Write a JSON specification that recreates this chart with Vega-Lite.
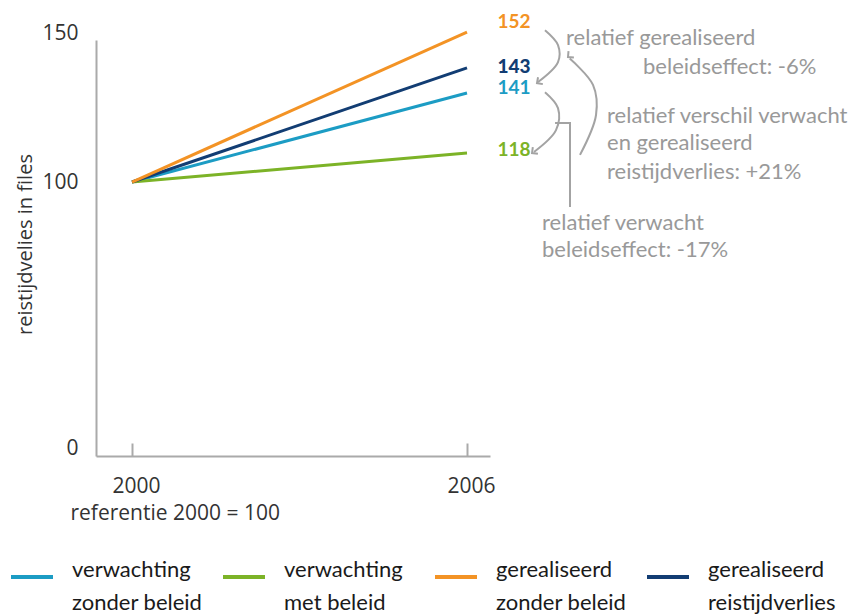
{
  "$schema": "https://vega.github.io/schema/vega-lite/v6.json",
  "width": 394,
  "height": 416,
  "autosize": {"type": "none"},
  "padding": {"left": 96, "top": 40, "right": 363, "bottom": 158},
  "background": "white",
  "config": {"view": {"stroke": null}, "font": "Open Sans"},
  "datasets": {
    "series": [
      {"series": "verwachting zonder beleid", "year": 2000, "value": 100},
      {"series": "verwachting zonder beleid", "year": 2006, "value": 133.5},
      {"series": "verwachting met beleid", "year": 2000, "value": 100},
      {"series": "verwachting met beleid", "year": 2006, "value": 110.9},
      {"series": "gerealiseerd reistijdverlies", "year": 2000, "value": 100},
      {"series": "gerealiseerd reistijdverlies", "year": 2006, "value": 142.9},
      {"series": "gerealiseerd zonder beleid", "year": 2000, "value": 100},
      {"series": "gerealiseerd zonder beleid", "year": 2006, "value": 156.4}
    ],
    "valuelabels": [
      {"series": "gerealiseerd zonder beleid", "text": "152", "year": 2006.842, "value": 160.2},
      {"series": "gerealiseerd reistijdverlies", "text": "143", "year": 2006.842, "value": 143.4},
      {"series": "verwachting zonder beleid", "text": "141", "year": 2006.842, "value": 135.5},
      {"series": "verwachting met beleid", "text": "118", "year": 2006.842, "value": 112.0}
    ],
    "curves": [
      {"id": "a", "i": 1, "year": 2007.397, "value": 157.1},
      {"id": "a", "i": 2, "year": 2007.63, "value": 151.5},
      {"id": "a", "i": 3, "year": 2007.63, "value": 145.1},
      {"id": "a", "i": 4, "year": 2007.272, "value": 137.6},
      {"id": "b", "i": 1, "year": 2007.397, "value": 133.8},
      {"id": "b", "i": 2, "year": 2007.63, "value": 127.8},
      {"id": "b", "i": 3, "year": 2007.594, "value": 119.5},
      {"id": "b", "i": 4, "year": 2007.2, "value": 111.3},
      {"id": "c", "i": 1, "year": 2008.024, "value": 110.2},
      {"id": "c", "i": 2, "year": 2008.311, "value": 125.2},
      {"id": "c", "i": 3, "year": 2008.257, "value": 136.5},
      {"id": "c", "i": 4, "year": 2007.84, "value": 146.4}
    ],
    "bracket": [
      {"i": 1, "year": 2007.577, "value": 122.2},
      {"i": 2, "year": 2007.845, "value": 122.2},
      {"i": 3, "year": 2007.845, "value": 90.6}
    ],
    "arrows": [
      {"arrow": "a", "year": 2007.254, "value": 137.2},
      {"arrow": "b", "year": 2007.165, "value": 110.9},
      {"arrow": "c", "year": 2007.809, "value": 147.0}
    ],
    "notes": [
      {"text": "relatief gerealiseerd", "year": 2007.774, "value": 154.1},
      {"text": "beleidseffect: -6%", "year": 2009.153, "value": 143.2},
      {"text": "relatief verschil verwacht", "year": 2008.508, "value": 124.8},
      {"text": "en gerealiseerd", "year": 2008.508, "value": 114.7},
      {"text": "reistijdverlies: +21%", "year": 2008.508, "value": 103.8},
      {"text": "relatief verwacht", "year": 2007.344, "value": 84.6},
      {"text": "beleidseffect: -17%", "year": 2007.344, "value": 74.4}
    ]
  },
  "encoding": {
    "x": {
      "field": "year", "type": "quantitative",
      "scale": {"domain": [1999.355, 2006.412], "nice": false, "zero": false},
      "axis": {
        "values": [2000, 2006], "format": "d", "grid": false,
        "domainColor": "#aaaaaa", "domainWidth": 2,
        "tickColor": "#aaaaaa", "tickWidth": 2, "tickSize": -13,
        "labelFontSize": 21, "labelColor": "#333333", "labelPadding": 32, "labelOffset": 4,
        "labelFont": "Open Sans",
        "title": "referentie 2000 = 100", "titleFontSize": 21, "titleFontWeight": "normal",
        "titleColor": "#333333", "titleAlign": "left", "titleAnchor": "start",
        "titleX": -26, "titleY": 57, "titleBaseline": "middle", "titleFont": "Open Sans"
      }
    },
    "y": {
      "field": "value", "type": "quantitative",
      "scale": {"domain": [-3, 153.4], "nice": false, "zero": false},
      "axis": {
        "values": [0, 100, 150], "grid": false, "ticks": false,
        "domainColor": "#aaaaaa", "domainWidth": 2,
        "labelFontSize": 21, "labelColor": "#333333", "labelPadding": 18,
        "labelFont": "Open Sans",
        "labelOffset": {"condition": {"test": "datum.value == 150", "value": -16}, "value": 0},
        "title": "reistijdvelies in files", "titleFontSize": 20, "titleFontWeight": "normal",
        "titleColor": "#333333", "titleAngle": -90, "titleX": -71, "titleY": 204,
        "titleAlign": "center", "titleBaseline": "middle", "titleFont": "Open Sans"
      }
    }
  },
  "layer": [
    {
      "data": {"name": "series"},
      "mark": {"type": "line", "strokeWidth": 3, "clip": false},
      "encoding": {
        "color": {
          "field": "series", "type": "nominal",
          "scale": {
            "domain": ["verwachting zonder beleid", "verwachting met beleid", "gerealiseerd zonder beleid", "gerealiseerd reistijdverlies"],
            "range": ["#1c9cc4", "#7cb327", "#f39325", "#123d73"]
          },
          "legend": {
            "title": null, "orient": "none", "direction": "horizontal", "columns": 4,
            "legendX": -87, "legendY": 514, "gridAlign": "all",
            "symbolType": "stroke", "symbolSize": 1764, "symbolStrokeWidth": 4,
            "labelFontSize": 22, "labelColor": "#1a1a1a", "labelFont": "Lato",
            "labelOffset": 17, "columnPadding": 12, "labelLimit": 300,
            "labelExpr": "[substring(datum.label, 0, indexof(datum.label, ' ')), substring(datum.label, indexof(datum.label, ' ') + 1)]",
            "encode": {"labels": {"update": {"lineHeight": {"value": 33}, "dy": {"value": -7}}}}
          }
        }
      }
    },
    {
      "data": {"name": "valuelabels"},
      "transform": [{"filter": "datum.text != '143'"}],
      "mark": {"type": "text", "font": "Lato", "fontSize": 19, "fontWeight": "bold", "align": "center", "baseline": "middle", "clip": false},
      "encoding": {
        "text": {"field": "text"},
        "color": {"field": "series", "type": "nominal", "legend": null}
      }
    },
    {
      "data": {"name": "valuelabels"},
      "transform": [{"filter": "datum.text == '143'"}],
      "mark": {"type": "text", "font": "Lato", "fontSize": 19, "fontWeight": 900, "align": "center", "baseline": "middle", "clip": false},
      "encoding": {
        "text": {"field": "text"},
        "color": {"field": "series", "type": "nominal", "legend": null}
      }
    },
    {
      "data": {"name": "curves"},
      "mark": {"type": "line", "interpolate": "catmull-rom", "color": "#a3a3a3", "strokeWidth": 2, "clip": false},
      "encoding": {
        "detail": {"field": "id"},
        "order": {"field": "i", "type": "quantitative"}
      }
    },
    {
      "data": {"name": "bracket"},
      "mark": {"type": "line", "color": "#a3a3a3", "strokeWidth": 2, "clip": false},
      "encoding": {
        "order": {"field": "i", "type": "quantitative"}
      }
    },
    {
      "data": {"name": "arrows"},
      "mark": {"type": "point", "shape": "M-0.8,0.8L0,0L0.8,0.8", "filled": false, "stroke": "#a3a3a3", "strokeWidth": 2, "size": 110, "opacity": 1, "clip": false},
      "encoding": {
        "angle": {"field": "arrow", "type": "nominal", "scale": {"domain": ["a", "b", "c"], "range": [235, 230, 330]}}
      }
    },
    {
      "data": {"name": "notes"},
      "mark": {"type": "text", "font": "Lato", "align": "left", "baseline": "middle", "fontSize": 22, "color": "#999999", "clip": false},
      "encoding": {"text": {"field": "text"}}
    }
  ]
}
